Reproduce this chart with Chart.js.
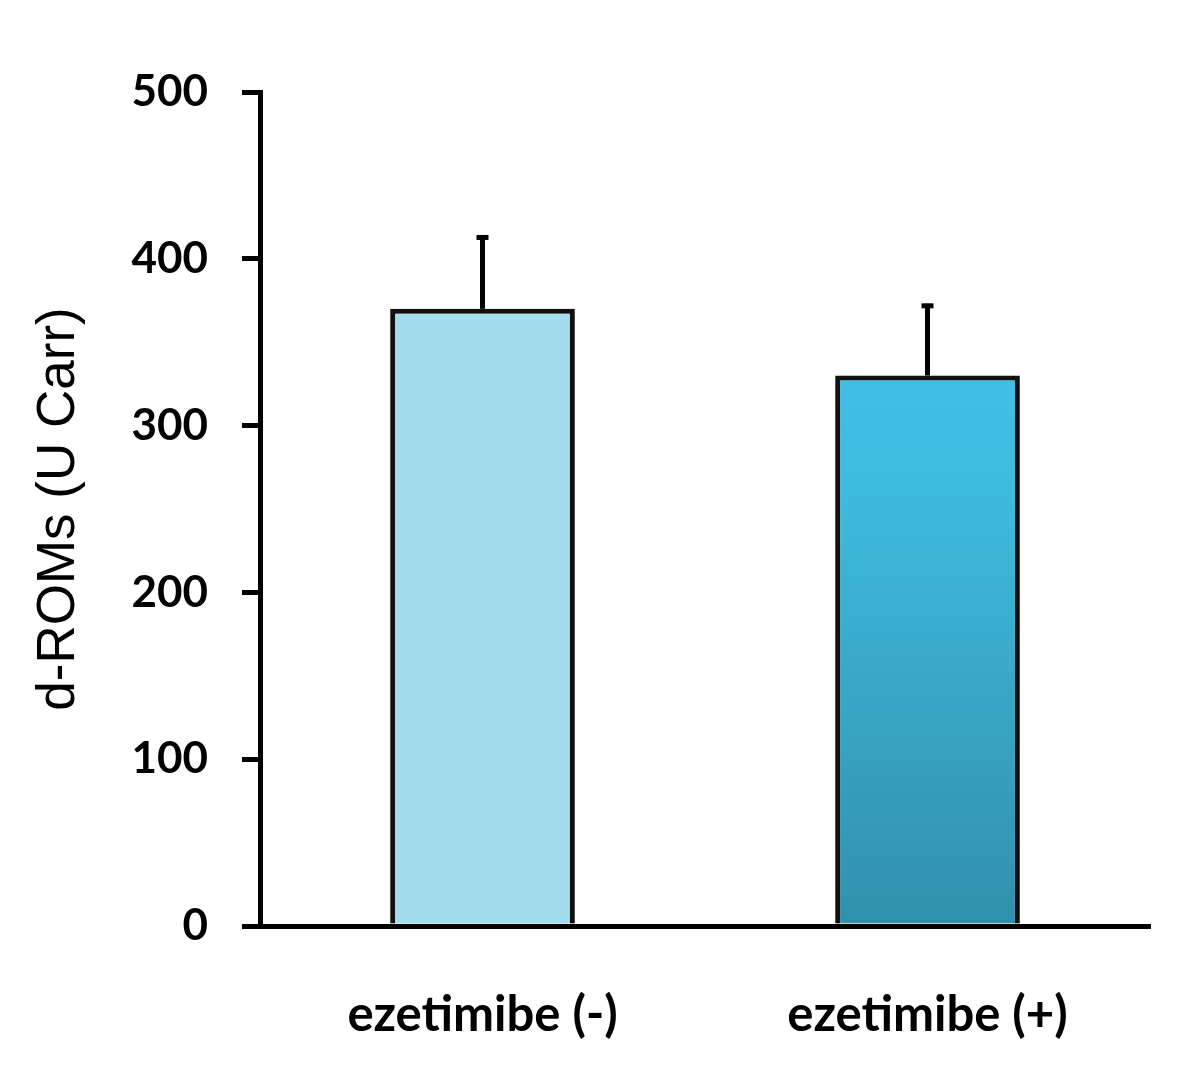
<!DOCTYPE html>
<html>
<head>
<meta charset="utf-8">
<script src="https://cdn.jsdelivr.net/npm/chart.js@4/dist/chart.umd.min.js"></script>
<style>
  html, body { margin: 0; padding: 0; background: #fff; }
  #wrap { width: 1200px; height: 1087px; }
</style>
</head>
<body>
<div id="wrap"><canvas id="chart" width="1200" height="1087"></canvas></div>
<script>
const categories = ['ezetimibe (-)', 'ezetimibe (+)'];
const means      = [370, 330];
const errors     = [44, 43];
const yTicks     = [0, 100, 200, 300, 400, 500];

// error bars drawn on top of the bars (upper side only)
const errorBars = {
  id: 'errorBars',
  afterDatasetsDraw(chart) {
    const { ctx, scales: { x, y } } = chart;
    ctx.save();
    ctx.strokeStyle = '#000';
    ctx.lineCap = 'butt';
    means.forEach((m, i) => {
      const px = x.getPixelForValue(i);
      const top = y.getPixelForValue(m + errors[i]);
      const base = y.getPixelForValue(m);
      ctx.lineWidth = 5;
      ctx.beginPath();
      ctx.moveTo(px, base);
      ctx.lineTo(px, top);
      ctx.stroke();
      ctx.beginPath();
      ctx.moveTo(px - 6, top + 2);
      ctx.lineTo(px + 6, top + 2);
      ctx.stroke();
    });
    ctx.restore();
  }
};

const barShadow = {
  id: 'barShadow',
  beforeDatasetsDraw(chart) {
    const ctx = chart.ctx;
    ctx.save();
    ctx.shadowColor = 'rgba(0,0,0,0.25)';
    ctx.shadowBlur = 6;
    ctx.shadowOffsetX = 3;
    ctx.shadowOffsetY = 3;
  },
  afterDatasetsDraw(chart) {
    chart.ctx.restore();
  }
};

function barFill(context) {
  if (context.dataIndex === 0) return '#A3DCEC';
  const area = context.chart.chartArea;
  if (!area) return '#3BB5D8';
  const g = context.chart.ctx.createLinearGradient(0, area.top, 0, area.bottom);
  g.addColorStop(0, '#44C6EC');
  g.addColorStop(0.45, '#3EBDE1');
  g.addColorStop(1, '#3190AB');
  return g;
}

new Chart(document.getElementById('chart'), {
  type: 'bar',
  data: {
    labels: categories,
    datasets: [{
      data: means,
      backgroundColor: barFill,
      borderColor: '#111',
      borderWidth: 5,
      borderSkipped: 'start',
      categoryPercentage: 1,
      barPercentage: 0.415,
    }]
  },
  options: {
    responsive: false,
    animation: false,
    devicePixelRatio: 1,
    layout: { padding: { left: 0, right: 50, top: 92, bottom: 0 } },
    plugins: {
      legend: { display: false },
      tooltip: { enabled: false },
    },
    scales: {
      x: {
        grid: { display: false },
        border: { display: true, color: '#000', width: 5 },
        ticks: {
          color: '#000',
          padding: 52,
          font: { family: 'Lato, "Open Sans", sans-serif', size: 49, weight: 'bold' },
        },
        afterFit: (s) => { s.height = 161; },
      },
      y: {
        min: 0,
        max: 500,
        afterBuildTicks: (s) => { s.ticks = yTicks.map(v => ({ value: v })); },
        grid: {
          drawOnChartArea: false,
          drawTicks: true,
          tickLength: 18,
          color: '#000',
          lineWidth: 5,
        },
        border: { display: true, color: '#000', width: 5 },
        ticks: {
          color: '#000',
          padding: 34,
          font: { family: 'Lato, "Open Sans", sans-serif', size: 44, weight: 'bold' },
        },
        title: {
          display: true,
          text: 'd-ROMs (U Carr)',
          color: '#000',
          padding: { top: 28, bottom: 0 },
          font: { family: '"Liberation Sans", Arial, sans-serif', size: 53 },
        },
        afterFit: (s) => { s.width = 260; },
      }
    }
  },
  plugins: [barShadow, errorBars]
});
</script>
</body>
</html>
